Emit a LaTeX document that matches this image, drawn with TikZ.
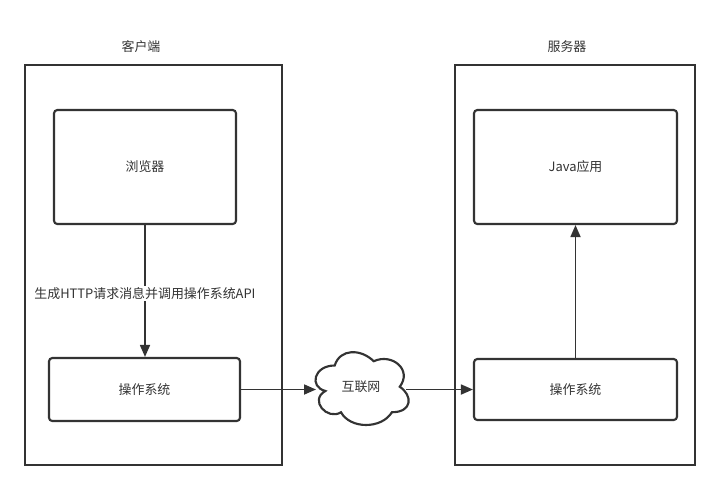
\documentclass[tikz,border=0pt]{standalone}
\usepackage{fontspec}
\setmainfont{Noto Sans CJK SC}
\usetikzlibrary{arrows.meta,positioning}
\definecolor{ink}{HTML}{333333}
\tikzset{
    frame/.style={draw=ink, line width=1.7pt, inner sep=0pt},
    box/.style={draw=ink, line width=1.6pt, rounded corners=2.5pt, inner sep=0pt},
    flow/.style={draw=ink, line width=1.3pt, -{Triangle[length=9pt,width=7.5pt]}},
    txt/.style={text=ink, font=\fontsize{9.7}{11}\selectfont},
}
\begin{document}
\begin{tikzpicture}[x=.75pt, y=-.75pt, txt]
    \useasboundingbox (0,0) rectangle (721,490);
    % two machines
    \node[frame, minimum width=192.75pt, minimum height=300pt] (client) at (153.5,265) {};
    \node[frame, minimum width=180pt, minimum height=300pt] (server) at (575,265) {};
    \node (clientlabel) at (141,47) {客户端};
    \node (serverlabel) at (567,47) {服务器};
    % inner boxes
    \node[box, minimum width=136.5pt, minimum height=85.5pt] (browser) at (145,167) {浏览器};
    \node[box, minimum width=143.25pt, minimum height=47.25pt] (osL) at (144.5,389.5) {操作系统};
    \node[box, minimum width=152.25pt, minimum height=85.5pt] (java) at (575.5,167) {Java应用};
    \node[box, minimum width=152.25pt, minimum height=45.75pt] (osR) at (575.5,389.5) {操作系统};
    % cloud
    \node[minimum width=78pt, minimum height=63.75pt, inner sep=0pt] (net) at (361,387) {互联网};
    \begin{scope}[shift={(net.north west)}, x=78pt, y=-63.75pt]
        \draw[ink, line width=1.6pt] (0.25,0.25) .. controls (0.05,0.25) and (0,0.5) .. (0.16,0.55)
            .. controls (0,0.66) and (0.18,0.9) .. (0.31,0.8)
            .. controls (0.4,1) and (0.7,1) .. (0.8,0.8)
            .. controls (1,0.8) and (1,0.6) .. (0.875,0.5)
            .. controls (1,0.3) and (0.8,0.1) .. (0.625,0.2)
            .. controls (0.5,0.05) and (0.3,0.05) .. (0.25,0.25) -- cycle;
        \coordinate (netL) at (0.07,0.5);
        \coordinate (netR) at (0.94,0.5);
    \end{scope}
    % connectors
    \draw[flow] (browser.south) -- node[fill=white, inner sep=1pt, pos=.52] {生成HTTP请求消息并调用操作系统API} (browser.south |- osL.north);
    \draw[flow] (osL.east) -- (osL.east -| netL);
    \draw[flow] (osR.west -| netR) -- (osR.west);
    \draw[flow] (osR.north) -- (java.south);
\end{tikzpicture}
\end{document}
